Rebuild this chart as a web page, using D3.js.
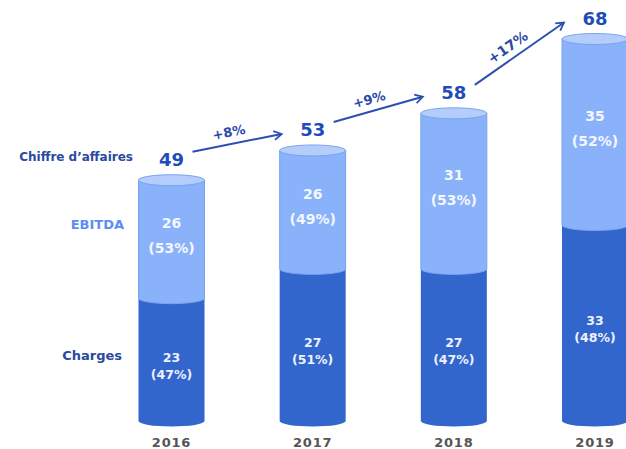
<!DOCTYPE html>
<html>
<head>
<meta charset="utf-8">
<script src="https://cdn.jsdelivr.net/npm/d3@7"></script>
<style>
  body { margin: 0; background: #fff; }
  svg { display: block; font-family: "DejaVu Sans", Verdana, sans-serif; font-weight: bold; }
</style>
</head>
<body>
<svg id="chart" width="626" height="449"></svg>
<script>
(function() {
    // data
    const years = ["2016", "2017", "2018", "2019"];
    const chiffre = [49, 53, 58, 68];
    const ebitda = [26, 26, 31, 35];
    const charges = [23, 27, 27, 33];
    const ebitdaPct = ["(53%)", "(49%)", "(53%)", "(52%)"];
    const chargesPct = ["(47%)", "(51%)", "(47%)", "(48%)"];
    const growth = ["+8%", "+9%", "+17%"];

    const svg = d3.select("#chart");
    const rx = 33, ry = 5.5, base = 421;

    // the drawing is schematic, so top and split use their own scales
    const x = d3.scalePoint().domain(years).range([171.5, 595]);
    const yTop = d3.scaleLinear().domain([16.6, 68]).range([base, 39]);
    const yMid = d3.scaleLinear().domain([6.2, 33]).range([base, 225]);

    const rows = years.map((y, i) => ({
        year: y, ca: chiffre[i], eb: ebitda[i], ch: charges[i],
        ebp: ebitdaPct[i], chp: chargesPct[i],
        cx: x(y), top: yTop(chiffre[i]), mid: yMid(charges[i])
    }));

    function segment(cx, yt, yb) {
        const l = cx - rx, r = cx + rx;
        return `M${l},${yt}L${l},${yb}A${rx},${ry} 0 0 0 ${r},${yb}L${r},${yt}Z`;
    }

    const bars = svg.append("g").selectAll("g").data(rows).join("g");

    bars.append("path")
        .attr("d", d => segment(d.cx, d.mid, base))
        .attr("fill", "#3266cc");

    bars.append("path")
        .attr("d", d => segment(d.cx, d.top, d.mid))
        .attr("fill", "#8ab2fb")
        .attr("stroke", "#7aa2f0")
        .attr("stroke-width", 1);

    bars.append("ellipse")
        .attr("cx", d => d.cx).attr("cy", d => d.top)
        .attr("rx", rx).attr("ry", ry)
        .attr("fill", "#b4cdfb")
        .attr("stroke", "#7aa2f0")
        .attr("stroke-width", 1);

    // labels inside the bars
    const light = d => (d.top + d.mid) / 2;
    const dark = d => (d.mid + base) / 2 + 6;

    bars.append("text").text(d => d.eb)
        .attr("x", d => d.cx).attr("y", d => light(d) - 11)
        .attr("text-anchor", "middle").attr("font-size", 14)
        .attr("fill", "#f4f7ff");
    bars.append("text").text(d => d.ebp)
        .attr("x", d => d.cx).attr("y", d => light(d) + 14)
        .attr("text-anchor", "middle").attr("font-size", 14)
        .attr("fill", "#f4f7ff");
    bars.append("text").text(d => d.ch)
        .attr("x", d => d.cx).attr("y", d => dark(d) - 4)
        .attr("text-anchor", "middle").attr("font-size", 12.5)
        .attr("fill", "#eef2ff");
    bars.append("text").text(d => d.chp)
        .attr("x", d => d.cx).attr("y", d => dark(d) + 13)
        .attr("text-anchor", "middle").attr("font-size", 12.5)
        .attr("fill", "#eef2ff");

    // totals above
    bars.append("text").text(d => d.ca)
        .attr("x", d => d.cx).attr("y", d => d.top - ry - 9)
        .attr("text-anchor", "middle").attr("font-size", 18)
        .attr("fill", "#1f4cb8");

    // years
    bars.append("text").text(d => d.year)
        .attr("x", d => d.cx).attr("y", 447)
        .attr("text-anchor", "middle").attr("font-size", 13)
        .attr("letter-spacing", 0.8)
        .attr("fill", "#555");

    // growth arrows
    svg.append("defs").append("marker")
        .attr("id", "head").attr("viewBox", "0 0 10 10")
        .attr("refX", 8).attr("refY", 5)
        .attr("markerWidth", 5.5).attr("markerHeight", 5.5)
        .attr("markerUnits", "strokeWidth")
        .attr("orient", "auto")
        .append("path").attr("d", "M1,1L8,5L1,9")
        .attr("fill", "none").attr("stroke", "#2a4fb0").attr("stroke-width", 1.6);

    const arrows = svg.append("g").selectAll("g").data(growth).join("g");
    arrows.each(function(g, i) {
        const a = rows[i], b = rows[i + 1];
        const x1 = a.cx + 21, y1 = a.top - ry - 9 - 14;
        const x2 = b.cx - 31, y2 = b.top - ry - 9 - 2;
        const ang = Math.atan2(y2 - y1, x2 - x1);
        const len = Math.hypot(x2 - x1, y2 - y1);
        const ux = (x2 - x1) / len, uy = (y2 - y1) / len;
        const mx = (x1 + x2) / 2 - ux * 6 + uy * 12;
        const my = (y1 + y2) / 2 - uy * 6 - ux * 12;
        const sel = d3.select(this);
        sel.append("line")
            .attr("x1", x1).attr("y1", y1).attr("x2", x2).attr("y2", y2)
            .attr("stroke", "#2a4fb0").attr("stroke-width", 2)
            .attr("marker-end", "url(#head)");
        sel.append("text").text(g)
            .attr("transform", `translate(${mx},${my}) rotate(${ang * 180 / Math.PI})`)
            .attr("text-anchor", "middle").attr("dy", "0.35em")
            .attr("font-size", i === 2 ? 14 : 13)
            .attr("fill", "#2a4aa8");
    });

    // row labels on the left
    const side = [
        { t: "Chiffre d\u2019affaires", y: 157, c: "#2a4aa0", s: 12, x: 133 },
        { t: "EBITDA", y: 224, c: "#5b8df2", s: 13, x: 124 },
        { t: "Charges", y: 355, c: "#2a4aa0", s: 13, x: 122 }
    ];
    svg.append("g").selectAll("text").data(side).join("text")
        .text(d => d.t)
        .attr("x", d => d.x)
        .attr("y", d => d.y).attr("dy", "0.35em")
        .attr("text-anchor", "end").attr("font-size", d => d.s)
        .attr("fill", d => d.c);
})();
</script>
</body>
</html>
